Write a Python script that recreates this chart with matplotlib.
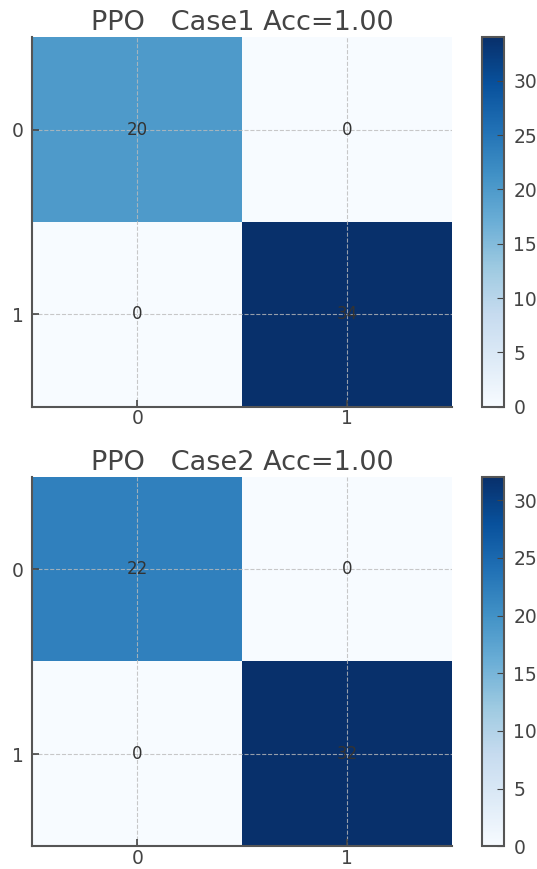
import matplotlib
matplotlib.use("Agg")
import matplotlib.pyplot as plt
import numpy as np

labels = ["0", "1"]
titles = ["PPO   Case1 Acc=1.00", "PPO   Case2 Acc=1.00"]
case1 = [[20, 0], [0, 34]]
case2 = [[22, 0], [0, 32]]
matrices = [case1, case2]

text_col = "#444444"
plt.rcParams["font.family"] = ["DejaVu Sans"]
plt.rcParams["text.color"] = text_col
plt.rcParams["xtick.color"] = text_col
plt.rcParams["ytick.color"] = text_col
plt.rcParams["axes.edgecolor"] = "#555555"

fig = plt.figure(figsize=(5.37, 8.69), dpi=100)
ax_boxes = [[0.060, 0.532, 0.782, 0.425], [0.060, 0.026, 0.782, 0.425]]
cb_boxes = [[0.898, 0.532, 0.040, 0.425], [0.898, 0.026, 0.040, 0.425]]

for mat, title, box, cbox in zip(matrices, titles, ax_boxes, cb_boxes):
    cm = np.array(mat)
    ax = fig.add_axes(box)
    im = ax.imshow(cm, cmap="Blues", aspect="auto")
    ax.set_title(title, fontsize=19.5, pad=5)
    ax.set_xticks(range(len(labels)))
    ax.set_yticks(range(len(labels)))
    ax.set_xticklabels(labels, fontsize=13.5)
    ax.set_yticklabels(labels, fontsize=13.5)
    ax.tick_params(direction="in", length=5, width=1.2)
    ax.tick_params(axis="x", pad=2)
    ax.tick_params(axis="y", pad=6)
    ax.grid(True, linestyle="--", linewidth=0.8, color="#bbbbbb", alpha=0.8)
    for side in ["top", "right"]:
        ax.spines[side].set_visible(False)
    ax.spines["left"].set_linewidth(1.5)
    ax.spines["bottom"].set_linewidth(1.5)
    for i in range(cm.shape[0]):
        for j in range(cm.shape[1]):
            ax.text(j, i, str(cm[i, j]), ha="center", va="center",
                    fontsize=12, color="#333333")
    cax = fig.add_axes(cbox)
    cb = fig.colorbar(im, cax=cax)
    cb.ax.tick_params(labelsize=13.5, direction="in", length=5, pad=7)
    cb.outline.set_linewidth(1.5)
    cb.outline.set_edgecolor("#555555")

fig.savefig("out.png", dpi=100)
